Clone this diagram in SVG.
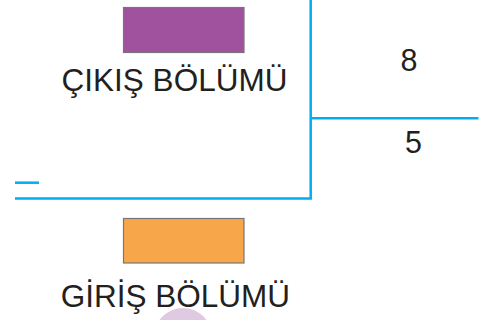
<svg xmlns="http://www.w3.org/2000/svg" width="488" height="320" viewBox="0 0 488 320">
  <style>
    .lbl { font-family: "Liberation Sans", Arial, sans-serif; font-size: 31.5px; fill: #231f20; }
    .num { font-family: "Liberation Sans", Arial, sans-serif; font-size: 30.5px; fill: #231f20; }
    .ln { stroke: #00aeef; stroke-width: 2.5; fill: none; }
  </style>
  <rect width="488" height="320" fill="#ffffff"/>
  <circle cx="183" cy="337" r="29" fill="#e0cae2"/>
  <g id="cikis">
    <rect x="123.5" y="7.5" width="120.5" height="45" fill="#a0529e" stroke="#77777a" stroke-width="1.2"/>
    <text class="lbl" x="174.5" y="91" text-anchor="middle">ÇIKIŞ BÖLÜMÜ</text>
  </g>
  <g id="giris">
    <rect x="123.5" y="218.5" width="120.5" height="44.5" fill="#f8a64a" stroke="#77777a" stroke-width="1.2"/>
    <text class="lbl" x="175.3" y="306.5" text-anchor="middle">GİRİŞ BÖLÜMÜ</text>
  </g>
  <g id="numbers">
    <text class="num" x="409" y="71" text-anchor="middle">8</text>
    <text class="num" x="413.5" y="152.5" text-anchor="middle">5</text>
  </g>
  <g id="connectors">
    <path class="ln" d="M310.7 0 V198.5 H15"/>
    <path class="ln" d="M310.7 118.3 H478.5"/>
    <path class="ln" d="M15 182.7 H39"/>
  </g>
</svg>
